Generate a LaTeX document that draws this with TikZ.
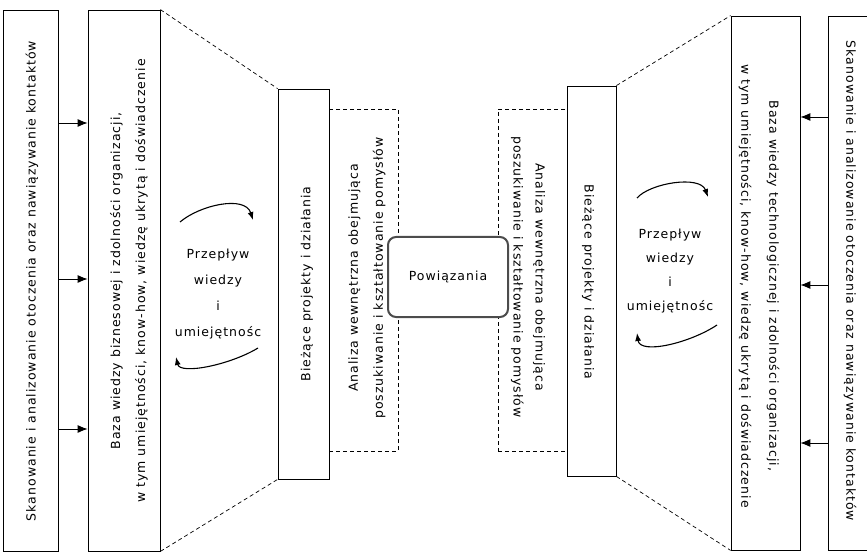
\documentclass[tikz,border=0pt]{standalone}
\usepackage{fontspec}
\newfontfamily\diagfont{DejaVu Sans}[LetterSpace=8]
\usepackage{tikz}
\usetikzlibrary{arrows.meta}

\begin{document}
\begin{tikzpicture}[
				x=1pt, y=1pt,
				box style/.style={
					draw,
					line width=0.8pt,
					inner sep=0pt
				},
				dash box/.style={
					draw,
					line width=0.8pt,
					dash pattern=on 4pt off 3pt,
					inner sep=0pt
				},
				text style/.style={
					font=\diagfont\fontsize{12.5}{25}\selectfont,
					align=center,
					inner sep=0pt
				},
				funnel/.style={line width=0.7pt, dash pattern=on 4pt off 3pt},
				link/.style={-{Latex[length=10pt,width=8pt]}, line width=0.9pt},
				flow/.style={-{Latex[length=8pt,width=6pt]}, line width=1.1pt}
				]
				\useasboundingbox (0,0) rectangle (867,555);
				
				
				\node[box style, minimum width=55pt, minimum height=541pt] (skanL) at (30.5,274.5) {};
				\node[text style, rotate=90] (skanLtext) at (32,274)
				{Skanowanie i analizowanie otoczenia oraz nawiązywanie kontaktów};
				
				\node[box style, minimum width=72pt, minimum height=541pt] (bazaL) at (124,274.5) {};
				\node[text style, rotate=90] (bazaLtext) at (129,274)
				{Baza wiedzy biznesowej i zdolności organizacji,\\
					w tym umiejętności, know-how, wiedzę ukrytą i doświadczenie};
				
				\node[dash box, minimum width=69pt, minimum height=342pt] (anaL) at (363.5,275) {};
				\node[box style, minimum width=51pt, minimum height=390pt] (biezL) at (303.5,271) {};
				\node[text style, rotate=90] (biezLtext) at (307,271)
				{Bieżące projekty i działania};
				\node[text style, rotate=90] (anaLtext) at (367,277)
				{Analiza wewnętrzna obejmująca\\
					poszukiwanie i kształtowanie pomysłów};
				
				\node[dash box, minimum width=69pt, minimum height=342pt] (anaR) at (532.5,275) {};
				\node[box style, minimum width=49pt, minimum height=390pt] (biezR) at (591.5,274) {};
				\node[text style, rotate=-90] (biezRtext) at (588,273)
				{Bieżące projekty i działania};
				\node[text style, rotate=-90, font=\diagfont\fontsize{12.5}{22}\selectfont] (anaRtext) at (528,278)
				{Analiza wewnętrzna obejmująca\\
					poszukiwanie i kształtowanie pomysłów};
				
				\node[draw=black!70, line width=2pt, rounded corners=8pt, fill=white,
				minimum width=120pt, minimum height=80pt, text style] (pow) at (448,278)
				{Powiązania};
				
				\node[box style, minimum width=69pt, minimum height=534pt] (bazaR) at (765.5,272) {};
				\node[text style, rotate=-90, font=\diagfont\fontsize{12.5}{28}\selectfont] (bazaRtext) at (759,269)
				{Baza wiedzy technologicznej i zdolności organizacji,\\
					w tym umiejętności, know-how, wiedzę ukrytą i doświadczenie};
				
				\node[box style, minimum width=40pt, minimum height=534pt] (skanR) at (848,272) {};
				\node[text style, rotate=-90] (skanRtext) at (850,274)
				{Skanowanie i analizowanie otoczenia oraz nawiązywanie kontaktów};
				
				\node[text style, font=\diagfont\fontsize{12.5}{26}\selectfont] (flowL) at (218,261)
				{Przepływ\\wiedzy\\i\\umiejętnośc};
				\node[text style, font=\diagfont\fontsize{12.5}{24}\selectfont] (flowR) at (670,284)
				{Przepływ\\wiedzy\\i\\umiejętnośc};
				
				
				\foreach \dy in {157.5,1.5,-148.5}
				\draw[link] ([yshift=\dy pt]skanL.east) -- ([yshift=\dy pt]skanL.east -| bazaL.west);
				\foreach \dy in {166,-2,-160}
				\draw[link] ([yshift=\dy pt]skanR.west) -- ([yshift=\dy pt]skanR.west -| bazaR.east);
				
				\draw[funnel] (bazaL.north east) -- (biezL.north west);
				\draw[funnel] (bazaL.south east) -- (biezL.south west);
				\draw[funnel] (biezR.north east) -- (bazaR.north west);
				\draw[funnel] (biezR.south east) -- (bazaR.south west);
				
				\draw[flow] (180,333) .. controls (200,350) and (245,360) .. (253,335);
				\draw[flow] (258,207) .. controls (230,190) and (180,180) .. (176,198);
				\draw[flow] (637,357) .. controls (650,372) and (700,380) .. (708,358);
				\draw[flow] (717,230) .. controls (690,212) and (640,200) .. (637,222);
				
			\end{tikzpicture}
\end{document}
